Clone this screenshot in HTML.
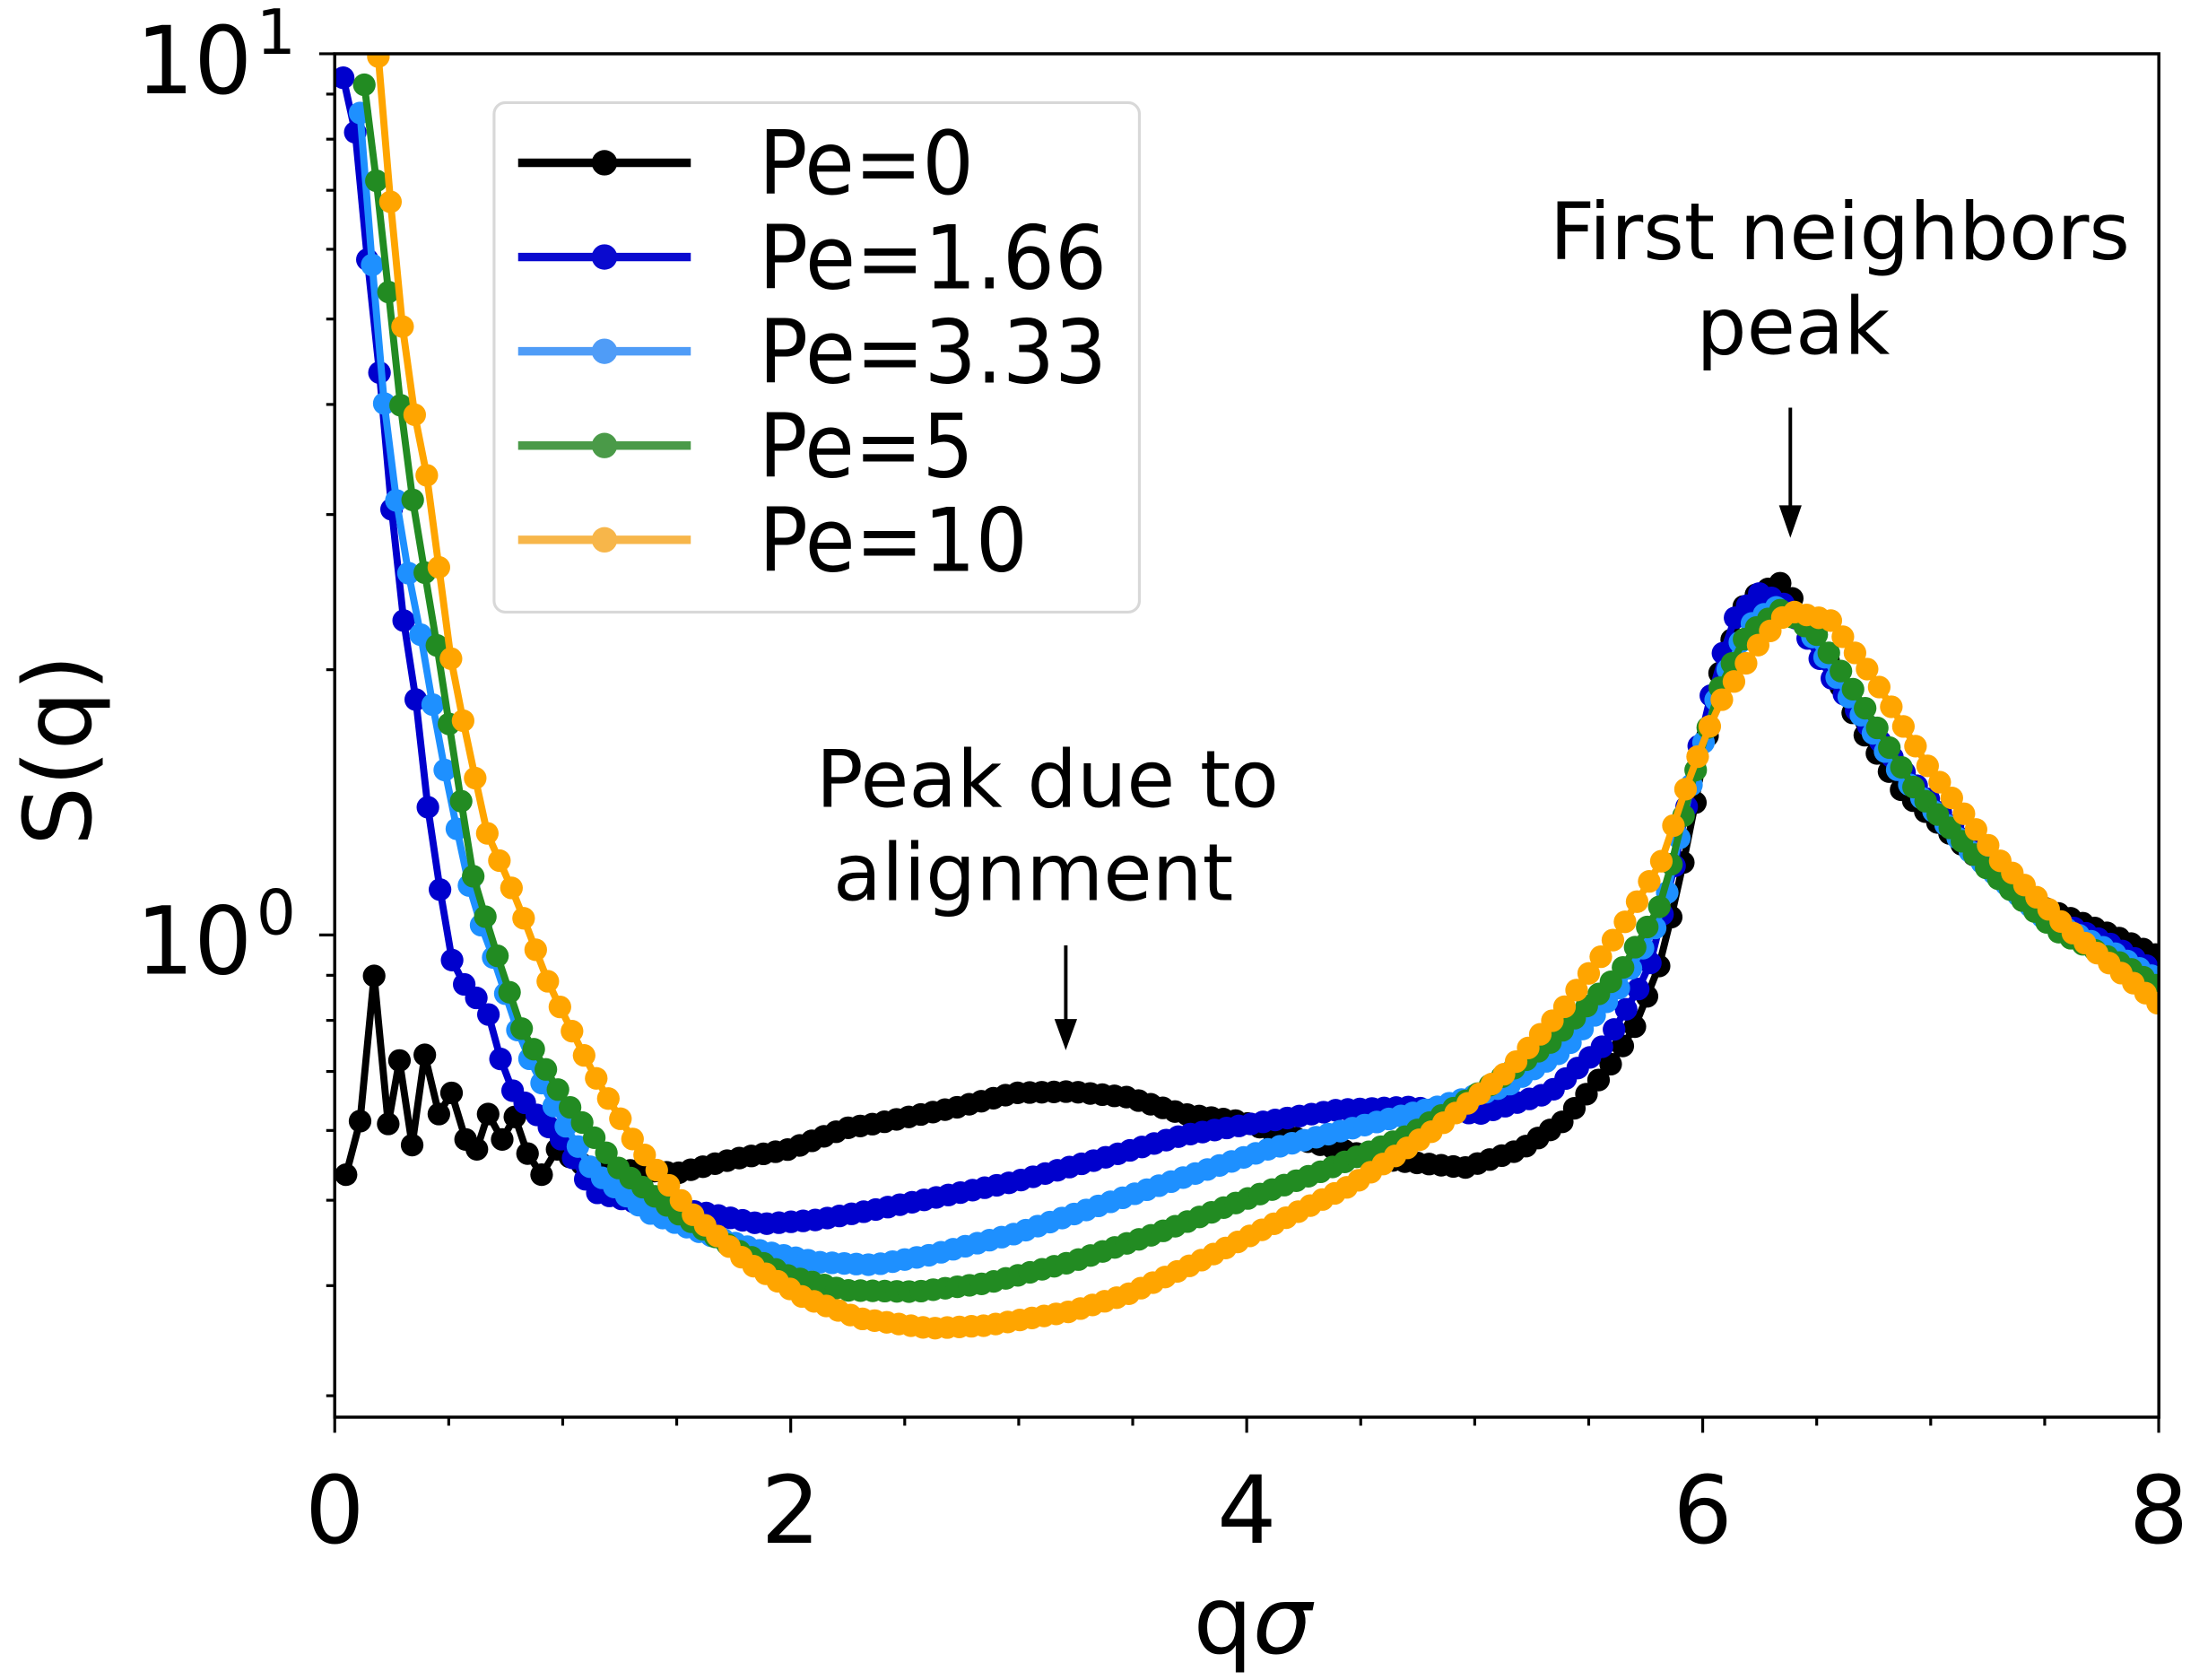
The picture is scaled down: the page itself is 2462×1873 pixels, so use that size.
<!DOCTYPE html>
<html><head><meta charset="utf-8"><style>html,body{margin:0;padding:0;background:#fff}svg{display:block}</style></head>
<body>
<svg id="s" width="2462" height="1873" viewBox="0 0 1560 1187" xmlns="http://www.w3.org/2000/svg" font-family="DejaVu Sans, Liberation Sans, sans-serif">
<defs><clipPath id="cp"><rect x="236.4" y="38" width="1289" height="963.3"/></clipPath></defs>
<rect width="1560" height="1187" fill="#fff"/>
<g id="data" clip-path="url(#cp)"></g>
<g id="axes" stroke="#000" stroke-width="2.2" fill="none">
<rect x="236.4" y="38" width="1289" height="963.3"/>
</g>
<g id="ticks" stroke="#000" stroke-width="2"></g>
<g font-size="66" fill="#000">
<text x="178" y="66" text-anchor="end" textLength="82" lengthAdjust="spacingAndGlyphs">10</text><text x="181" y="38" font-size="44">1</text>
<text x="178" y="688" text-anchor="end" textLength="82" lengthAdjust="spacingAndGlyphs">10</text><text x="181" y="660" font-size="44">0</text>
<text x="236.4" y="1090" text-anchor="middle">0</text>
<text x="558.6" y="1090" text-anchor="middle">2</text>
<text x="880.9" y="1090" text-anchor="middle">4</text>
<text x="1203.1" y="1090" text-anchor="middle">6</text>
<text x="1525.3" y="1090" text-anchor="middle">8</text>
<text x="885" y="1168" text-anchor="middle">q<tspan font-style="italic">σ</tspan></text>
<text transform="translate(64,530) rotate(-90)" text-anchor="middle">S(q)</text>
</g>
<g font-size="56" fill="#000" text-anchor="middle">
<text x="1300" y="183" textLength="410" lengthAdjust="spacingAndGlyphs">First neighbors</text>
<text x="1267" y="250">peak</text>
<text x="740" y="570" textLength="327" lengthAdjust="spacingAndGlyphs">Peak due to</text>
<text x="730" y="636">alignment</text>
</g>
<g stroke="#000" stroke-width="2.5"><line x1="1265" y1="288" x2="1265" y2="360"/><line x1="753" y1="668" x2="753" y2="722"/></g>
<polygon points="1257,357 1273,357 1265,380" fill="#000"/>
<polygon points="745,720 761,720 753,742" fill="#000"/>
<rect x="349" y="72.5" width="456" height="360" rx="8" fill="#fff" fill-opacity="0.85" stroke="#d8d8d8" stroke-width="2"/>
<g id="leg"></g>
</svg>
<script>
var NS="http://www.w3.org/2000/svg";
function el(t,a,p){var e=document.createElementNS(NS,t);for(var k in a)e.setAttribute(k,a[k]);p.appendChild(e);return e;}
var tk=document.getElementById('ticks');
var L=236.4,R=1525.3,T=38,B=1001.3,Y0=660.6,DEC=622.6;
for(var q=0;q<=8.001;q+=0.5){var x=L+q*(R-L)/8;var maj=Math.abs(q%2)<1e-6;el('line',{x1:x,y1:B,x2:x,y2:B+(maj?11:6)},tk);}
function ly(v){return Y0-Math.log10(v)*DEC;}
[0.3,0.4,0.5,0.6,0.7,0.8,0.9,2,3,4,5,6,7,8,9].forEach(function(v){var y=ly(v);if(y>T&&y<B)el('line',{x1:L,y1:y,x2:L-6,y2:y},tk);});
[1,10].forEach(function(v){var y=ly(v);el('line',{x1:L,y1:y,x2:L-11,y2:y},tk);});
var S={
k:[[245,833],[255,795],[265,692],[275,797],[283,752],[292,812],[301,748],[311,790],[320,775],[330,808],[338,815],[346,790],[356,808],[365,792],[374,818],[384,833],[395,815],[420,830],[460,830],[480,832],[520,822],[560,815],[600,800],[620,797],[680,785],[720,775],[760,774],[800,778],[840,790],[880,795],[930,810],[980,822],[1040,828],[1080,815],[1110,795],[1140,760],[1160,730],[1180,680],[1200,590],[1220,480],[1240,425],[1265,413],[1290,450],[1320,515],[1350,560],[1400,605],[1450,643],[1500,663],[1533,678]],
b:[[243,55],[253,100],[262,205],[272,292],[282,420],[292,470],[300,550],[310,620],[320,680],[330,700],[345,715],[360,770],[380,790],[400,810],[420,845],[460,855],[500,860],[540,868],[580,865],[620,858],[660,850],[720,838],[780,822],[840,805],[900,795],[950,787],[1000,785],[1050,790],[1100,775],[1140,740],[1170,690],[1190,610],[1210,510],[1230,440],[1250,420],[1270,430],[1300,480],[1350,545],[1400,600],[1450,648],[1500,670],[1533,690]],
l:[[255,80],[270,268],[280,350],[290,410],[300,460],[310,520],[320,570],[335,640],[350,680],[370,740],[390,780],[420,830],[460,860],[500,875],[540,887],[580,895],[620,897],[660,890],[720,875],[780,855],[840,835],[900,815],[960,800],[1020,785],[1070,770],[1110,745],[1150,700],[1180,650],[1200,560],[1220,490],[1240,445],[1260,430],[1280,440],[1310,490],[1350,550],[1400,605],[1450,650],[1500,675],[1533,695]],
g:[[258,60],[270,155],[280,255],[290,340],[300,400],[310,460],[320,525],[335,620],[350,670],[370,730],[400,780],[440,830],[480,860],[520,885],[560,905],[600,915],[650,916],[700,910],[760,895],[820,875],[880,852],[940,830],[1000,805],[1050,775],[1100,740],[1150,690],[1180,640],[1200,560],[1220,490],[1240,450],[1265,432],[1290,450],[1320,495],[1360,560],[1410,615],[1460,660],[1510,685],[1533,700]],
o:[[268,40],[275,125],[283,215],[293,290],[303,340],[312,410],[320,470],[330,520],[345,590],[365,635],[390,700],[420,760],[450,810],[490,860],[530,895],[570,920],[610,935],[660,942],[700,940],[760,930],[800,918],[850,895],[900,870],[960,840],[1020,800],[1070,760],[1110,715],[1150,660],[1180,610],[1200,550],[1220,500],[1250,455],[1270,433],[1300,440],[1330,480],[1370,545],[1420,610],[1470,660],[1533,712]]};
var C={k:'#000000',b:'#0000cd',l:'#1e90ff',g:'#228b22',o:'#ffa500'};
function mx(x){return 236.4+(x-237)*(1288.9/1296);}
function my(y){return 38+(y-38)*0.9962;}
function interp(p,x){for(var i=0;i<p.length-1;i++){if(x>=p[i][0]&&x<=p[i+1][0]){var t=(x-p[i][0])/(p[i+1][0]-p[i][0]);return p[i][1]+t*(p[i+1][1]-p[i][1]);}}return null;}
var dg=document.getElementById('data');
['k','b','l','g','o'].forEach(function(k){
 var p=S[k],pts=[];
 if(k=='k'){for(var i=0;i<17;i++)pts.push(p[i]);for(var x=404;x<=1533;x+=8.6)pts.push([x,interp(p,x)]);}
 else{for(var x=p[0][0];x<=1533;x+=8.6){pts.push([x,interp(p,x)]);}}
 var d=pts.map(function(q,i){return (i?'L':'M')+mx(q[0]).toFixed(1)+' '+my(q[1]).toFixed(1);}).join('');
 var g=el('g',{},dg);
 el('path',{d:d,fill:'none',stroke:C[k],'stroke-width':5,'stroke-linejoin':'round'},g);
 pts.forEach(function(q){el('circle',{cx:mx(q[0]),cy:my(q[1]),r:8,fill:C[k]},g);});
});
var lg=document.getElementById('leg');
var LC=['#000000','#0a0acf','#4f9cf7','#4a9a48','#f7b64a'],LT=['Pe=0','Pe=1.66','Pe=3.33','Pe=5','Pe=10'],LW=[152,246,246,152,190];
for(var i=0;i<5;i++){var y=115+i*66.6;
 el('line',{x1:366,y1:y,x2:488,y2:y,stroke:LC[i],'stroke-width':6},lg);
 el('circle',{cx:427,cy:y,r:9,fill:LC[i]},lg);
 var t=el('text',{x:536,y:y+22,'font-size':62,textLength:LW[i],lengthAdjust:'spacingAndGlyphs'},lg);t.textContent=LT[i];}
</script>
</body></html>
